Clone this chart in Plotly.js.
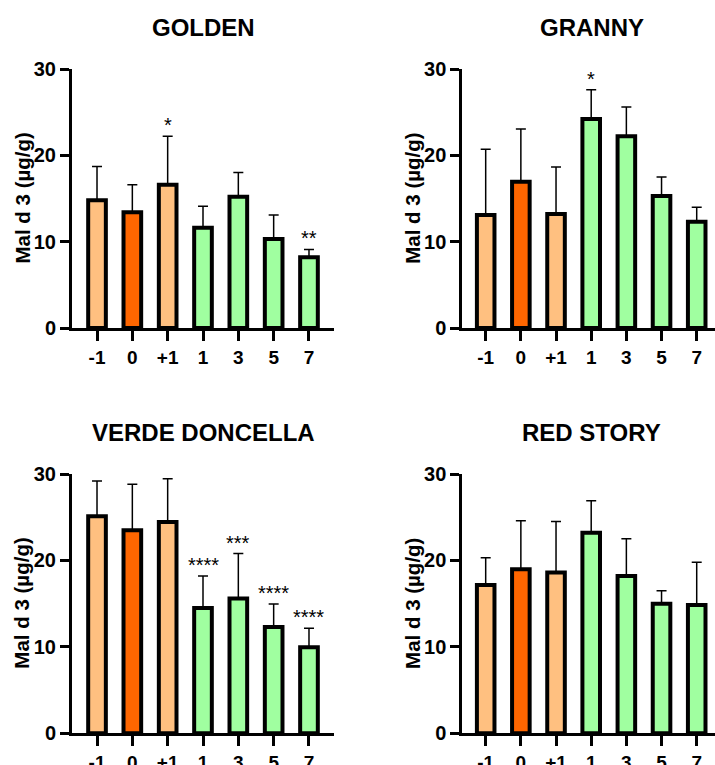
<!DOCTYPE html>
<html>
<head>
<meta charset="utf-8">
<script src="https://cdn.plot.ly/plotly-3.0.1.min.js"></script>
<style>html,body{margin:0;padding:0;background:#fff;}#chart{width:715px;height:765px;}</style>
</head>
<body>
<div id="chart"></div>
<script>
// ---- data ----
var categories = ["-1", "0", "+1", "1", "3", "5", "7"];
var panelTitles = ["GOLDEN", "GRANNY", "VERDE DONCELLA", "RED STORY"];
var yLabel = "Mal d 3 (µg/g)";
var yTicks = [0, 10, 20, 30];

var goldenMean = [14.8, 13.4, 16.6, 11.6, 15.2, 10.3, 8.2];
var goldenSD   = [3.9, 3.2, 5.6, 2.5, 2.8, 2.8, 0.9];
var goldenSig  = ["", "", "*", "", "", "", "**"];

var grannyMean = [13.1, 16.95, 13.2, 24.2, 22.2, 15.3, 12.3];
var grannySD   = [7.6, 6.1, 5.45, 3.4, 3.4, 2.2, 1.7];
var grannySig  = ["", "", "", "*", "", "", ""];

var verdeMean = [25.1, 23.5, 24.45, 14.5, 15.6, 12.3, 9.95];
var verdeSD   = [4.1, 5.3, 5.0, 3.7, 5.2, 2.65, 2.2];
var verdeSig  = ["", "", "", "****", "***", "****", "****"];

var redMean = [17.15, 18.97, 18.6, 23.2, 18.2, 15.0, 14.85];
var redSD   = [3.15, 5.63, 5.9, 3.7, 4.3, 1.5, 4.95];
var redSig  = ["", "", "", "", "", "", ""];

// ---- styles ----
var FONT = "Liberation Sans, Arial, sans-serif";
var barColors = ["#FFC080", "#FF6600", "#FFC080", "#A0FFA0", "#A0FFA0", "#A0FFA0", "#A0FFA0"];
var W = 715, H = 765;

var panels = [
  {mean: goldenMean, sd: goldenSD, sig: goldenSig, title: panelTitles[0], xl: 72, xr: 334, yt: 69, yb: 328, range: [-0.708, 6.708]},
  {mean: grannyMean, sd: grannySD, sig: grannySig, title: panelTitles[1], xl: 462.3, xr: 715, yt: 69, yb: 328, range: [-0.665, 6.52], cx: 591.8},
  {mean: verdeMean, sd: verdeSD, sig: verdeSig, title: panelTitles[2], xl: 72, xr: 334, yt: 474, yb: 733.3, range: [-0.708, 6.708]},
  {mean: redMean, sd: redSD, sig: redSig, title: panelTitles[3], xl: 462.3, xr: 715, yt: 474, yb: 733.3, range: [-0.665, 6.52], cx: 591.8}
];

var traces = [];
var annotations = [];
var layout = {
  width: W, height: H,
  margin: {l: 0, r: 0, t: 0, b: 0},
  paper_bgcolor: "#ffffff",
  plot_bgcolor: "rgba(0,0,0,0)",
  showlegend: false,
  font: {family: FONT, color: "#000"}
};

panels.forEach(function (p, i) {
  var n = i + 1;
  var xa = n === 1 ? "x" : "x" + n;
  var ya = n === 1 ? "y" : "y" + n;
  var zeros = p.mean.map(function () { return 0; });
  traces.push({
    type: "bar",
    x: categories,
    y: p.mean,
    xaxis: xa, yaxis: ya,
    width: 0.5,
    marker: {color: barColors, line: {color: "#000", width: 4}},
    error_y: {type: "data", symmetric: false, array: p.sd, arrayminus: zeros, color: "#000", thickness: 1.5, width: 5},
    hoverinfo: "skip"
  });
  var xKey = n === 1 ? "xaxis" : "xaxis" + n;
  var yKey = n === 1 ? "yaxis" : "yaxis" + n;
  layout[xKey] = {
    domain: [p.xl / W, p.xr / W],
    anchor: ya,
    type: "category",
    range: p.range,
    showline: true, linecolor: "#000", linewidth: 3,
    ticks: "outside", ticklen: 10, tickwidth: 3, tickcolor: "#000",
    tickfont: {family: FONT, size: 19, weight: "bold", color: "#000"},
    showgrid: false, zeroline: false, fixedrange: true
  };
  layout[yKey] = {
    domain: [1 - p.yb / H, 1 - p.yt / H],
    anchor: xa,
    range: [0, 30],
    tickvals: yTicks,
    showline: true, linecolor: "#000", linewidth: 3,
    ticks: "outside", ticklen: 9, tickwidth: 3, tickcolor: "#000",
    tickfont: {family: FONT, size: 20, weight: "bold", color: "#000"},
    showgrid: false, zeroline: false, fixedrange: true
  };
  var cx = p.cx !== undefined ? p.cx : (p.xl + p.xr) / 2;
  annotations.push({
    xref: "paper", yref: "paper",
    x: cx / W, y: 1 - (p.yt - 41.5) / H,
    xanchor: "center", yanchor: "middle",
    text: p.title, showarrow: false,
    font: {family: FONT, size: 24, weight: "bold", color: "#000"}
  });
  annotations.push({
    xref: "paper", yref: "paper",
    x: (p.xl - 50) / W, y: 1 - ((p.yt + p.yb) / 2) / H,
    xanchor: "center", yanchor: "middle",
    text: yLabel, showarrow: false, textangle: -90,
    font: {family: FONT, size: 20.5, weight: "bold", color: "#000"}
  });
  p.sig.forEach(function (s, k) {
    if (!s) return;
    annotations.push({
      xref: xa, yref: ya,
      x: k, y: p.mean[k] + p.sd[k],
      xanchor: "center", yanchor: "bottom",
      text: s, showarrow: false, yshift: -2,
      font: {family: FONT, size: 20, color: "#000"}
    });
  });
});

layout.annotations = annotations;
Plotly.newPlot("chart", traces, layout, {staticPlot: true, displayModeBar: false});
</script>
</body>
</html>
